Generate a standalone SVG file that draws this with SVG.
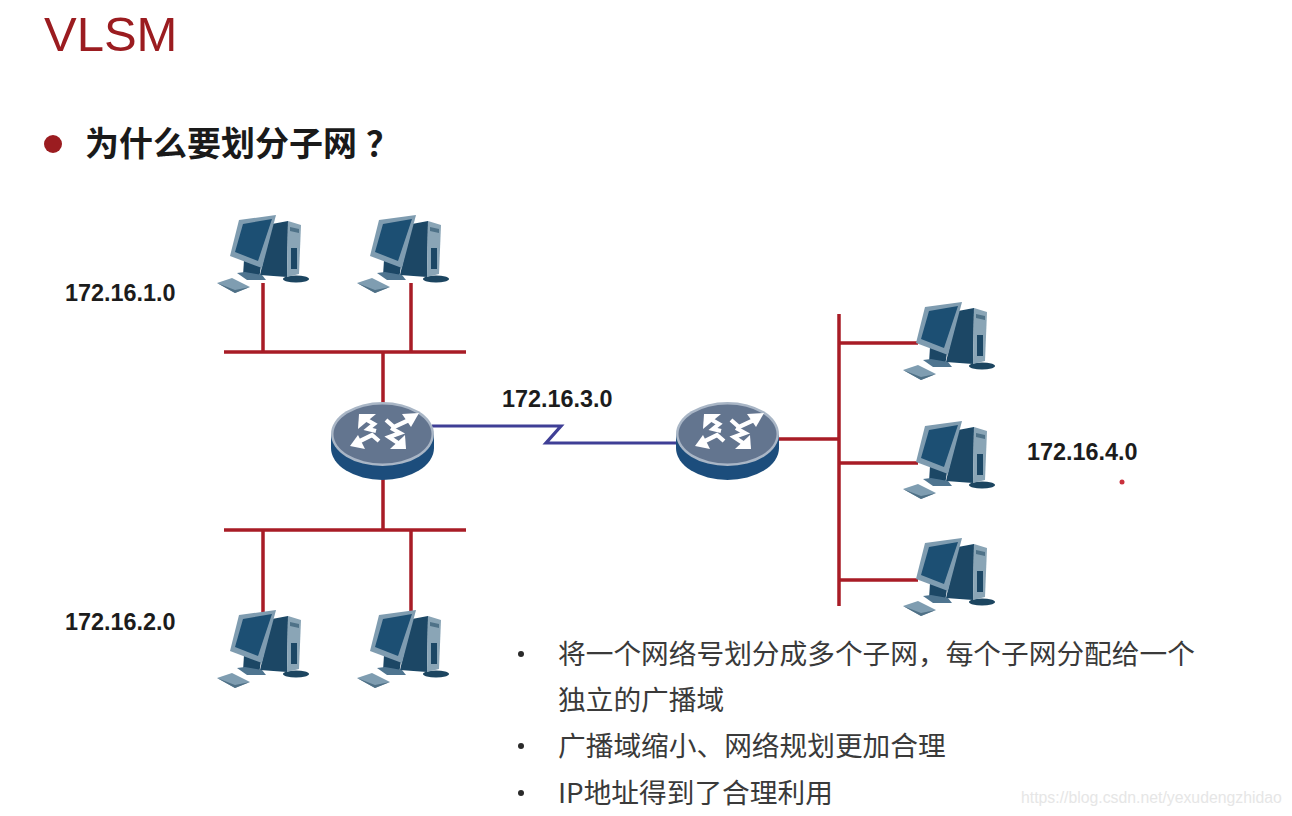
<svg xmlns="http://www.w3.org/2000/svg" width="1292" height="816" viewBox="0 0 1292 816">
<style>
.net{stroke:#a81c26;stroke-width:3.5;fill:none}
.wan{stroke:#3f3f96;stroke-width:3.2;fill:none}
.ip{font:bold 23.4px "Liberation Sans",Arial,sans-serif;fill:#1c1c1c}
.body{font:27.7px "Noto Sans CJK SC","Noto Sans",sans-serif;fill:#3a3a3a}
.dot{fill:#2a2a2a}
.arr{fill:none;stroke:#fff;stroke-width:4.2}
</style>
<defs>
<filter id="soft" x="-5%" y="-5%" width="110%" height="110%"><feGaussianBlur stdDeviation="0.7"/></filter>
<g id="pc" filter="url(#soft)">
<polygon points="217,283 232,278 250,287 235,293" fill="#7f9db1"/>
<polygon points="217,283 235,290 250,287 235,293" fill="#4f7086"/>
<ellipse cx="296" cy="279" rx="13" ry="3.5" fill="#1d4560"/>
<polygon points="272,224 288,221 287,277 260,275" fill="#1a4665"/>
<polygon points="288,221 301,225 299,274 287,277" fill="#8aa5b6"/>
<polygon points="290,227 299,229 299,233 290,231" fill="#4f7288"/>
<polygon points="291,248 297,248 297,269 291,269" fill="#1a4665"/>
<polygon points="244,260 261,266 259,279 243,276" fill="#1a4665"/>
<polygon points="237,273 245,272 262,275 266,280 247,280" fill="#4f7590"/>
<polygon points="239,220 276,215 262,268 230,256" fill="#7f9cb0"/>
<polygon points="243,224 272,219 258,261 235,252" fill="#1d4f73"/>
</g>
<g id="router" filter="url(#soft)">
<path d="M331,434 V448 A51.5,32 0 0 0 434,448 V434 Z" fill="#1d4e7c"/>
<ellipse cx="382.5" cy="434" rx="51.5" ry="32" fill="#a9b6c6"/>
<ellipse cx="382.5" cy="434" rx="49" ry="29.5" fill="#64748f"/>
<g fill="#fff">
<polygon points="359,414 376,414 358,429"/>
<polygon points="419,413 402,414 411,427"/>
<polygon points="350,446 365,449 358,435"/>
<polygon points="406,449 390,449 405,435"/>
</g>
<path class="arr" d="M367,420L374,424L368,429L376,431"/>
<path class="arr" d="M409,420L394,427L386,420"/>
<path class="arr" d="M358,442L372,435L379,441"/>
<path class="arr" d="M398,443L389,437L400,433L391,428"/>
</g>
</defs>

<rect width="1292" height="816" fill="#fff"/>
<text x="44" y="51" font-family="'Liberation Sans',Arial,sans-serif" font-size="49" fill="#9b1c20">VLSM</text>
<circle cx="53" cy="144" r="9" fill="#9b1c20"/>
<text x="85" y="156" font-family="'Noto Sans CJK SC',sans-serif" font-weight="700" font-size="34" fill="#1a1a1a">为什么要划分子网<tspan x="366">？</tspan></text>

<g id="connectors">
<path class="net" d="M224,352H466M263,283V352M411,283V352M383,352V405"/>
<path class="net" d="M224,530H466M263,530V612M411,530V612M383,477V530"/>
<path class="net" d="M839,314V606M839,343H918M839,463H918M839,580H918M776,439H839"/>
<path class="wan" d="M432,426H561L546,443H680"/>
</g>

<g id="pc1"><use href="#pc"/></g>
<g id="pc2"><use href="#pc" x="140"/></g>
<g id="pc3"><use href="#pc" y="395"/></g>
<g id="pc4"><use href="#pc" x="140" y="395"/></g>
<g id="pc5"><use href="#pc" x="686" y="87"/></g>
<g id="pc6"><use href="#pc" x="686" y="206"/></g>
<g id="pc7"><use href="#pc" x="686" y="323"/></g>
<g id="router1"><use href="#router"/></g>
<g id="router2"><use href="#router" x="345"/></g>

<text class="ip" x="65" y="301">172.16.1.0</text>
<text class="ip" x="65" y="630">172.16.2.0</text>
<text class="ip" x="502" y="407">172.16.3.0</text>
<text class="ip" x="1027" y="460">172.16.4.0</text>

<circle class="dot" cx="521" cy="654" r="3"/>
<circle class="dot" cx="521" cy="746" r="3"/>
<circle class="dot" cx="521" cy="793" r="3"/>
<text class="body" x="558" y="664">将一个网络号划分成多个子网，每个子网分配给一个</text>
<text class="body" x="558" y="710">独立的广播域</text>
<text class="body" x="558" y="756">广播域缩小、网络规划更加合理</text>
<text class="body" x="558" y="803">IP地址得到了合理利用</text>

<circle cx="1122" cy="482" r="2.5" fill="#c9303c"/>
<text x="1021" y="803" font-family="'Liberation Sans',Arial,sans-serif" font-size="15.8" fill="#e6e6e6">https://blog.csdn.net/yexudengzhidao</text>
</svg>
